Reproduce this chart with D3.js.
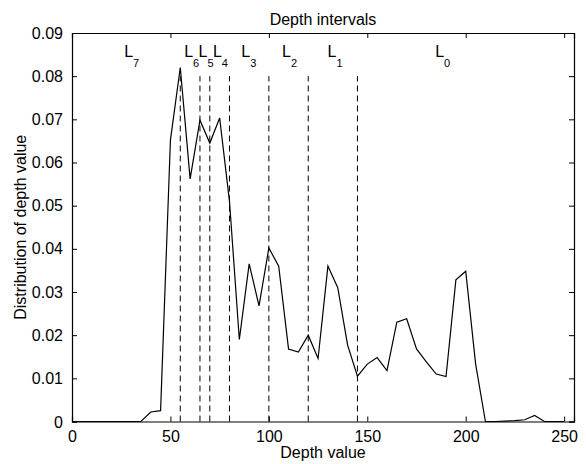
<!DOCTYPE html>
<html>
<head>
<meta charset="utf-8">
<script src="https://cdn.jsdelivr.net/npm/d3@7"></script>
<style>
  body { margin: 0; background: #fff; }
  text { font-family: "Liberation Sans", Arial, sans-serif; }
</style>
</head>
<body>
<div class="chart"></div>
<script>
// histogram of depth values, sampled every 5
var depth = [0, 5, 10, 15, 20, 25, 30, 35, 40, 45, 50, 55, 60, 65, 70, 75, 80, 85, 90, 95,
  100, 105, 110, 115, 120, 125, 130, 135, 140, 145, 150, 155, 160, 165, 170, 175, 180, 185,
  190, 195, 200, 205, 210, 215, 220, 225, 230, 235, 240, 245, 250];
var dist = [0, 0, 0, 0, 0, 0, 0, 0, 0.0022, 0.0025, 0.0652, 0.0820, 0.0562, 0.0698, 0.0645,
  0.0703, 0.0510, 0.0190, 0.0365, 0.0268, 0.0402, 0.0360, 0.0168, 0.0161, 0.0200, 0.0146,
  0.0360, 0.0310, 0.0177, 0.0105, 0.0133, 0.0148, 0.0118, 0.0230, 0.0238, 0.0168, 0.0138,
  0.0110, 0.0104, 0.0328, 0.0348, 0.0134, 0, 0, 0.0001, 0.0002, 0.0004, 0.0014, 0, 0, 0];

// interval borders and labels
var borders = [55, 65, 70, 80, 100, 120, 145];
var borderTop = 0.08;
var labelNames = ["7", "6", "5", "4", "3", "2", "1", "0"];
var labelX = [26.5, 57, 64.3, 71.6, 86, 106.7, 129.8, 184.5];
var labelY = 0.0845;

var xTicks = [0, 50, 100, 150, 200, 250];
var yTicks = [0, 0.01, 0.02, 0.03, 0.04, 0.05, 0.06, 0.07, 0.08, 0.09];

var svgWidth = 586;
var svgHeight = 464;
var margin = { top: 33, right: 12, bottom: 42.5, left: 72 };
var width = svgWidth - margin.left - margin.right;
var height = svgHeight - margin.top - margin.bottom;

var svg = d3.select(".chart")
  .append("svg")
  .attr("width", svgWidth)
  .attr("height", svgHeight);

var chartGroup = svg.append("g")
  .attr("transform", `translate(${margin.left}, ${margin.top})`);

var x = d3.scaleLinear().domain([0, 255]).range([0, width]);
var y = d3.scaleLinear().domain([0, 0.09]).range([height, 0]);

var yFmt = d => d === 0 ? "0" : d3.format(".2f")(d);

// axes, MATLAB-style inward ticks on all sides
var bottomAxis = chartGroup.append("g")
  .attr("transform", `translate(0, ${height})`)
  .call(d3.axisBottom(x).tickValues(xTicks).tickSize(-5).tickPadding(9));
var topAxis = chartGroup.append("g")
  .call(d3.axisTop(x).tickValues(xTicks).tickSize(-5).tickFormat(""));
var leftAxis = chartGroup.append("g")
  .call(d3.axisLeft(y).tickValues(yTicks).tickSize(-5).tickPadding(9).tickFormat(yFmt));
var rightAxis = chartGroup.append("g")
  .attr("transform", `translate(${width}, 0)`)
  .call(d3.axisRight(y).tickValues(yTicks).tickSize(-5).tickFormat(""));

[bottomAxis, topAxis, leftAxis, rightAxis].forEach(function(a) {
  a.selectAll("path").attr("stroke", "#000").attr("stroke-width", 1.2);
  a.selectAll("line").attr("stroke", "#000");
  a.selectAll("text").attr("fill", "#000").style("font-size", "16px")
    .style("font-family", "'Liberation Sans', Arial, sans-serif");
});
// 0 tick label sits a touch lower in the original
leftAxis.selectAll(".tick text").filter(d => d === 0).attr("dy", "0.4em");

// dashed borders
chartGroup.selectAll(".border")
  .data(borders)
  .enter()
  .append("line")
  .attr("x1", d => x(d))
  .attr("x2", d => x(d))
  .attr("y1", y(0))
  .attr("y2", y(borderTop))
  .attr("stroke", "#000")
  .attr("stroke-width", 1)
  .attr("stroke-dasharray", "6,4");

// curve
var line = d3.line()
  .x((d, i) => x(depth[i]))
  .y(d => y(d));

chartGroup.append("path")
  .datum(dist)
  .attr("d", line)
  .attr("fill", "none")
  .attr("stroke", "#000")
  .attr("stroke-width", 1.2);

// interval labels L_k
var labels = chartGroup.selectAll(".lab")
  .data(labelNames)
  .enter()
  .append("text")
  .attr("x", (d, i) => x(labelX[i]))
  .attr("y", y(labelY))
  .style("font-size", "16px");
labels.append("tspan").text("L");
labels.append("tspan")
  .attr("dy", 10)
  .style("font-size", "11px")
  .text(d => d);

// title and axis labels
svg.append("text")
  .attr("x", margin.left + width / 2)
  .attr("y", 25)
  .attr("text-anchor", "middle")
  .style("font-size", "16px")
  .text("Depth intervals");

svg.append("text")
  .attr("x", margin.left + width / 2)
  .attr("y", 458)
  .attr("text-anchor", "middle")
  .style("font-size", "16px")
  .text("Depth value");

svg.append("text")
  .attr("transform", "rotate(-90)")
  .attr("x", -(margin.top + height / 2))
  .attr("y", 26)
  .attr("text-anchor", "middle")
  .style("font-size", "16px")
  .text("Distribution of depth value");
</script>
</body>
</html>
